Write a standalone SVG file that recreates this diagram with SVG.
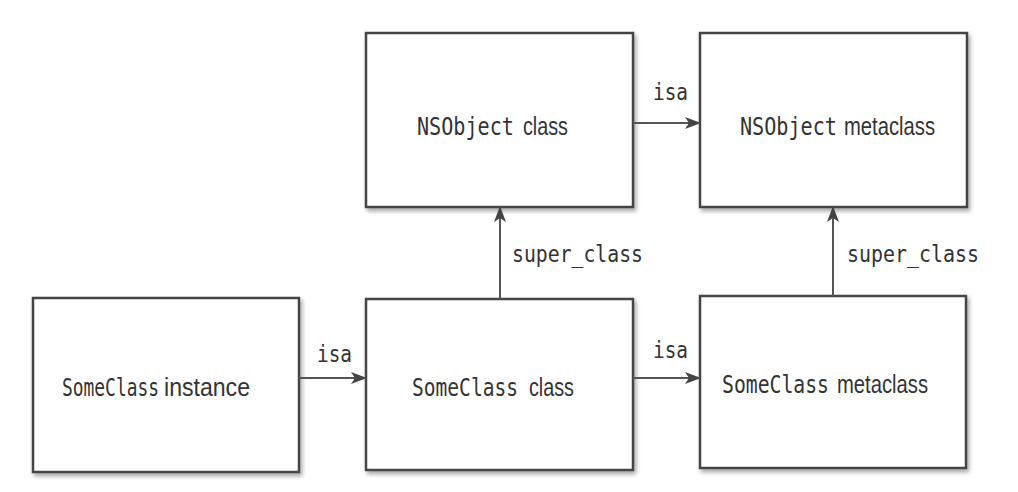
<svg xmlns="http://www.w3.org/2000/svg" width="1018" height="492" viewBox="0 0 1018 492">
  <defs>
    <filter id="sh" x="-5%" y="-5%" width="115%" height="115%">
      <feDropShadow dx="2" dy="3" stdDeviation="2" flood-color="#000" flood-opacity="0.35"/>
    </filter>
    <marker id="ah" viewBox="0 0 16 12" refX="15" refY="6" markerWidth="16" markerHeight="12" markerUnits="userSpaceOnUse" orient="auto">
      <path d="M0,0 L16,6 L0,12 L4,6 Z" fill="#444"/>
    </marker>
  </defs>
  <style>
    .box { fill: #fff; stroke: #444; stroke-width: 2.5; filter: url(#sh); }
    .mono { font-family: "DejaVu Sans Mono", "Liberation Mono", monospace; font-size: 18px; fill: #333; }
    .prop { font-family: "Liberation Sans", "DejaVu Sans", sans-serif; font-size: 21px; fill: #333; }
    .lbl { font-family: "DejaVu Sans Mono", "Liberation Mono", monospace; font-size: 19.5px; fill: #333; }
    .conn { stroke: #555; stroke-width: 2; fill: none; marker-end: url(#ah); }
  </style>
  <rect width="1018" height="492" fill="#fff"/>

  <g id="nsobject-class">
    <rect class="box" x="366" y="33" width="267" height="174"/>
    <text class="mono" transform="translate(417,135) scale(1,1.35)" textLength="97" lengthAdjust="spacingAndGlyphs">NSObject</text>
    <text class="prop" transform="translate(523,135) scale(1,1.2)" textLength="45" lengthAdjust="spacingAndGlyphs">class</text>
  </g>
  <g id="nsobject-metaclass">
    <rect class="box" x="700" y="33" width="267" height="174"/>
    <text class="mono" transform="translate(740,135) scale(1,1.35)" textLength="97" lengthAdjust="spacingAndGlyphs">NSObject</text>
    <text class="prop" transform="translate(844,135) scale(1,1.2)" textLength="91" lengthAdjust="spacingAndGlyphs">metaclass</text>
  </g>
  <g id="someclass-instance">
    <rect class="box" x="33" y="298" width="266" height="174"/>
    <text class="mono" transform="translate(62,396) scale(1,1.35)" textLength="97" lengthAdjust="spacingAndGlyphs">SomeClass</text>
    <text class="prop" transform="translate(164,396) scale(1,1.2)" textLength="86" lengthAdjust="spacingAndGlyphs">instance</text>
  </g>
  <g id="someclass-class">
    <rect class="box" x="366" y="299" width="267" height="171"/>
    <text class="mono" transform="translate(412,396) scale(1,1.35)" textLength="106" lengthAdjust="spacingAndGlyphs">SomeClass</text>
    <text class="prop" transform="translate(529,396) scale(1,1.2)" textLength="45" lengthAdjust="spacingAndGlyphs">class</text>
  </g>
  <g id="someclass-metaclass">
    <rect class="box" x="700" y="296" width="266" height="172"/>
    <text class="mono" transform="translate(722,393) scale(1,1.35)" textLength="107" lengthAdjust="spacingAndGlyphs">SomeClass</text>
    <text class="prop" transform="translate(837,393) scale(1,1.2)" textLength="91" lengthAdjust="spacingAndGlyphs">metaclass</text>
  </g>

  <g id="connectors">
    <line class="conn" x1="633" y1="123" x2="700" y2="123"/>
    <text class="lbl" transform="translate(653,100) scale(1,1.15)" textLength="35" lengthAdjust="spacingAndGlyphs">isa</text>
    <line class="conn" x1="299" y1="378" x2="366" y2="378"/>
    <text class="lbl" transform="translate(317,362) scale(1,1.15)" textLength="35" lengthAdjust="spacingAndGlyphs">isa</text>
    <line class="conn" x1="633" y1="378" x2="700" y2="378"/>
    <text class="lbl" transform="translate(653,358) scale(1,1.15)" textLength="35" lengthAdjust="spacingAndGlyphs">isa</text>
    <line class="conn" x1="500" y1="299" x2="500" y2="207"/>
    <text class="lbl" transform="translate(512,262) scale(1,1.15)" textLength="131" lengthAdjust="spacingAndGlyphs">super_class</text>
    <line class="conn" x1="833" y1="296" x2="833" y2="207"/>
    <text class="lbl" transform="translate(847,262) scale(1,1.15)" textLength="132" lengthAdjust="spacingAndGlyphs">super_class</text>
  </g>
</svg>
